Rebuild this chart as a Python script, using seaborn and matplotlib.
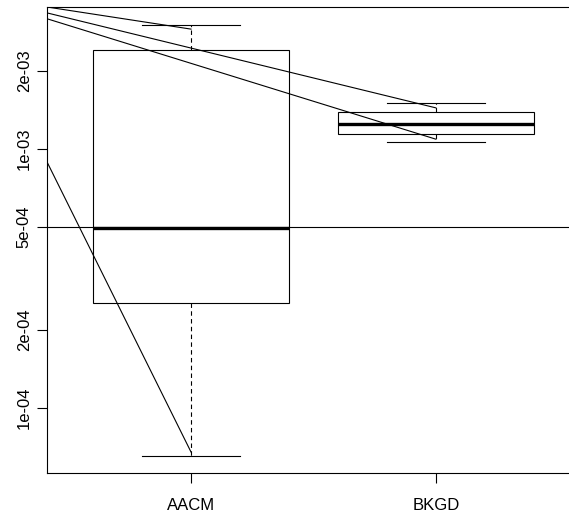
import numpy as np
import pandas as pd
import matplotlib
matplotlib.use("Agg")
import matplotlib.pyplot as plt
import seaborn as sns

# five-number summaries
groups = ["AACM", "BKGD"]
aacm_vals = [6.53e-5, 2.54e-4, 4.95e-4, 2.41e-3, 3.01e-3]
bkgd_vals = [1.06e-3, 1.14e-3, 1.25e-3, 1.39e-3, 1.51e-3]

# extra lines drawn over the boxes (start at the left edge, end at a group)
line_start = [3.53e-3, 3.35e-3, 3.18e-3, 8.91e-4]
line_end_group = [0, 1, 1, 0]
line_end = [2.90e-3, 1.44e-3, 1.09e-3, 6.76e-5]
hline_value = 5e-4

yticks = [1e-4, 2e-4, 5e-4, 1e-3, 2e-3]
ytick_labels = ["1e-04", "2e-04", "5e-04", "1e-03", "2e-03"]

plt.rcParams["font.family"] = ["Liberation Sans", "DejaVu Sans"]
plt.rcParams["font.size"] = 12

df = pd.DataFrame({
    "group": [groups[0]] * len(aacm_vals) + [groups[1]] * len(bkgd_vals),
    "value": aacm_vals + bkgd_vals,
})

fig = plt.figure(figsize=(5.69, 5.16), dpi=100)
W, H = 569, 516
ax = fig.add_axes([47 / W, (H - 473) / H, 531 / W, 466 / H])

sns.boxplot(data=df, x="group", y="value", log_scale=True, width=0.8,
            whis=(0, 100), color="white", linecolor="black", linewidth=0.8,
            whiskerprops=dict(linestyle=(0, (4, 3))),
            medianprops=dict(linewidth=2.4), ax=ax)

xleft, xright = -0.588, 1.58
for s, g, e in zip(line_start, line_end_group, line_end):
    ax.plot([xleft, g], [s, e], color="black", lw=0.8)
ax.axhline(hline_value, color="black", lw=0.8)

ax.set_xlim(xleft, xright)
ax.set_ylim(5.61e-5, 3.53e-3)
ax.set_yticks(yticks)
ax.set_yticklabels(ytick_labels, rotation=90, va="center")
ax.yaxis.set_minor_locator(matplotlib.ticker.NullLocator())
ax.set_xlabel("")
ax.set_ylabel("")
for sp in ax.spines.values():
    sp.set_color("black")
    sp.set_linewidth(0.8)
ax.tick_params(length=7, width=0.8, pad=4)
ax.tick_params(axis="x", pad=11)

fig.savefig("out.png", dpi=100)
